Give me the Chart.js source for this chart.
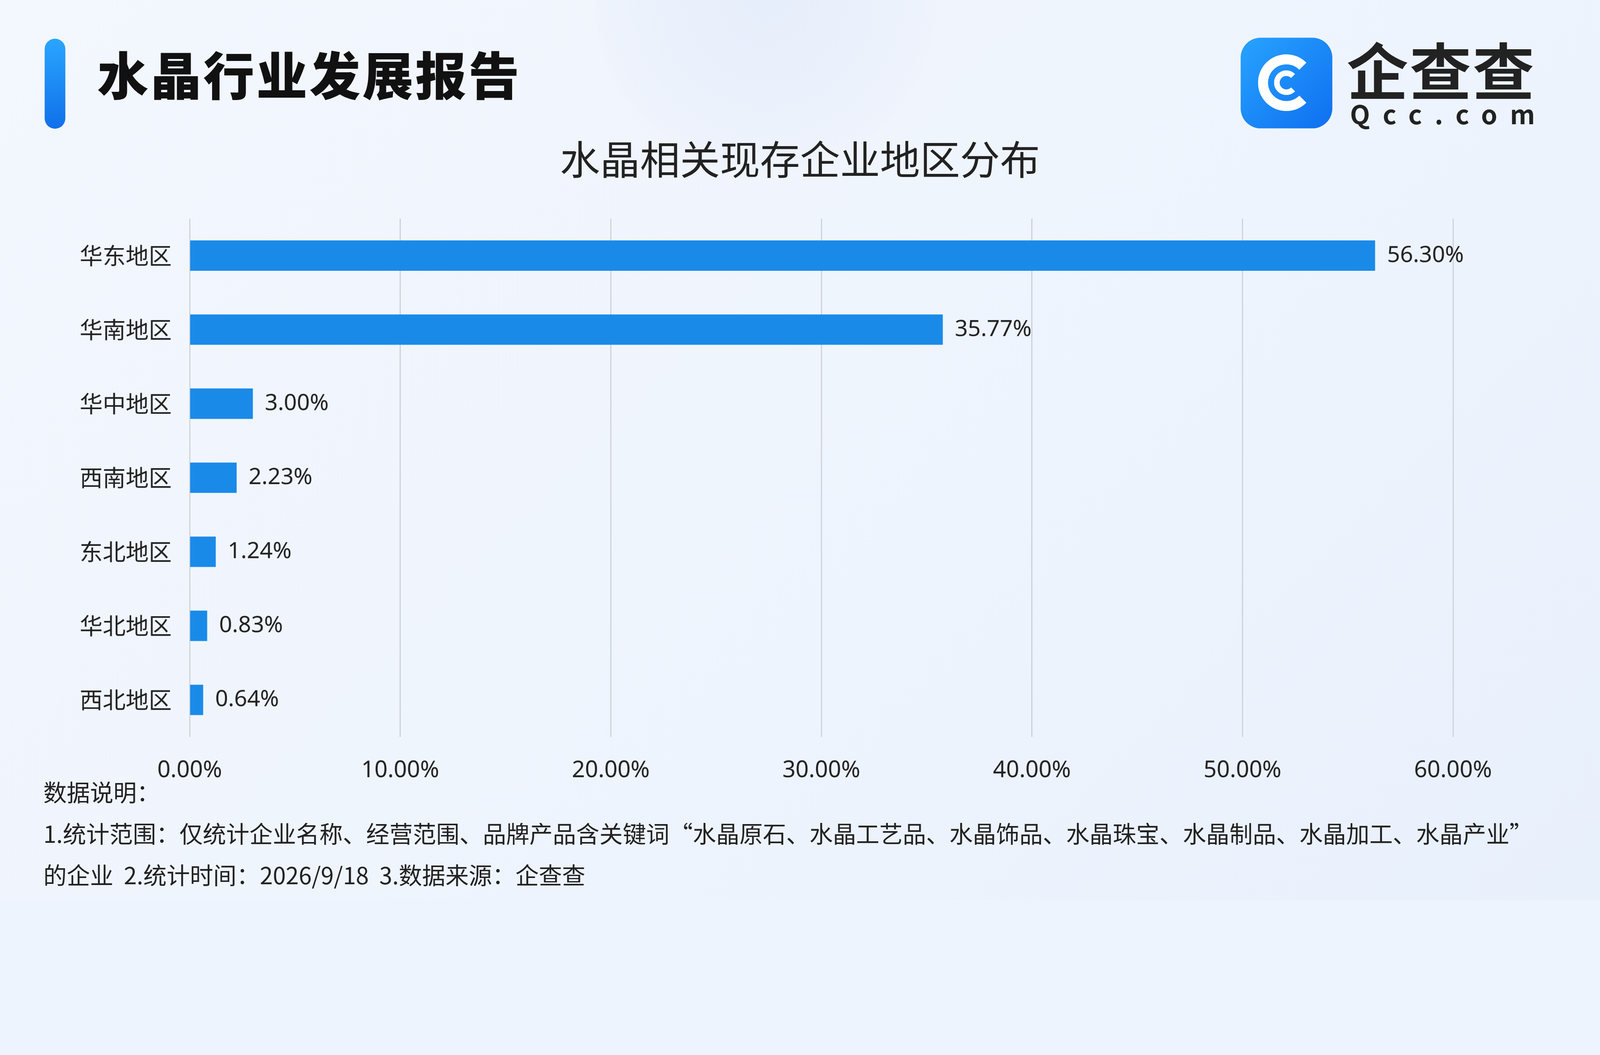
<!DOCTYPE html>
<html><head><meta charset="utf-8">
<script src="https://cdn.jsdelivr.net/npm/chart.js@4"></script>
<style>
html,body{margin:0;overflow:hidden;background:#eef4fd}
#stage{position:absolute;left:0;top:0;width:4800px;height:2700px;transform-origin:0 0;font-family:"Noto Sans CJK SC","Noto Sans",sans-serif;
background:radial-gradient(circle at 2300px 0px,#e6eefb 0,#eef3fc 500px,rgba(240,245,253,0) 520px),linear-gradient(135deg,#f3f7fe 0%,#eef4fd 60%,#e8f0fc 100%);}
.abs{position:absolute;white-space:nowrap}
#bar{left:134px;top:116px;width:62px;height:270px;border-radius:31px;background:linear-gradient(#2aa6ff,#1070ea)}
#title{left:292px;top:142px;font-size:153px;font-weight:900;color:#111;letter-spacing:6px;line-height:1}
#sub{left:0;width:4800px;top:412px;text-align:center;font-size:120px;color:#222;line-height:1}
#logo{left:3722px;top:113px;width:275px;height:272px;border-radius:60px;background:linear-gradient(135deg,#27a3ff,#0f6ff0)}
#ring{left:52px;top:50px;width:110px;height:110px;border:30px solid #fff;border-right-color:transparent;border-radius:50%}
#ring2{left:100px;top:98px;width:40px;height:40px;border:17px solid #fff;border-right-color:transparent;border-radius:50%}
#lt{left:4040px;top:112px;font-size:185px;font-weight:700;color:#222;line-height:1;letter-spacing:4px}
#lq{left:4050px;top:300px;font-size:78px;font-weight:700;color:#222;letter-spacing:38px;line-height:1}
#note{left:130px;top:2312px;font-size:70px;color:#222;line-height:124px}
</style></head><body>
<div id="stage">
<div class="abs" id="bar"></div>
<div class="abs" id="title">水晶行业发展报告</div>
<div class="abs" id="logo"><div class="abs" id="ring"></div><div class="abs" id="ring2"></div></div>
<div class="abs" id="lt">企查查</div>
<div class="abs" id="lq">Qcc.com</div>
<div class="abs" id="sub">水晶相关现存企业地区分布</div>
<div class="abs" style="left:0;top:568px;width:4800px;height:1792px"><canvas id="c"></canvas></div>
<div class="abs" id="note">数据说明：<br>1.统计范围：仅统计企业名称、经营范围、品牌产品含关键词“水晶原石、水晶工艺品、水晶饰品、水晶珠宝、水晶制品、水晶加工、水晶产业”<br>的企业&nbsp;&nbsp;2.统计时间：2026/9/18&nbsp;&nbsp;3.数据来源：企查查</div>
</div>
<script>
const regions = ['华东地区','华南地区','华中地区','西南地区','东北地区','华北地区','西北地区'];
const shares = [56.30,35.77,3.00,2.23,1.24,0.83,0.64];

const stage = document.getElementById('stage');
function fit(){ stage.style.transform = 'scale(' + (window.innerWidth/4800) + ')'; }
fit(); window.addEventListener('resize', fit);

const valueLabels = {
  id:'valueLabels',
  afterDatasetsDraw(chart){
    const ctx = chart.ctx;
    ctx.save();
    ctx.font = '68px "Noto Sans", sans-serif';
    ctx.fillStyle = '#222';
    ctx.textBaseline = 'middle';
    chart.getDatasetMeta(0).data.forEach((b,i)=>{
      ctx.fillText(shares[i].toFixed(2)+'%', b.x+36, b.y);
    });
    ctx.restore();
  }
};

new Chart(document.getElementById('c'), {
  type:'bar',
  data:{labels:regions,datasets:[{data:shares,backgroundColor:'#1a8ae9',barPercentage:0.82,categoryPercentage:0.5}]},
  options:{
    indexAxis:'y',responsive:true,maintainAspectRatio:false,animation:false,
    layout:{padding:{right:441,top:0}},
    plugins:{legend:{display:false},tooltip:{enabled:false}},
    scales:{
      x:{min:0,max:60,border:{display:false},
        grid:{color:'#c9ccd3',lineWidth:3,drawTicks:false},
        afterFit(a){a.height=150},
        ticks:{stepSize:10,padding:60,color:'#222',font:{size:69,family:'"Noto Sans", sans-serif'},callback:v=>v.toFixed(2)+'%'}},
      y:{border:{display:false},grid:{display:false},
        afterFit(a){a.width=569},
        ticks:{padding:46,color:'#222',font:{size:69,family:'"Noto Sans CJK SC"'}}}
    }
  },
  plugins:[valueLabels]
});
</script>
</body></html>
